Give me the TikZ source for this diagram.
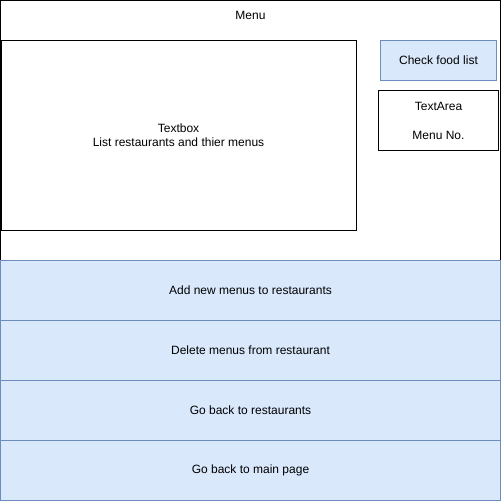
\documentclass[tikz,border=0pt]{standalone}
\usepackage{fontspec}
\setsansfont{Liberation Sans}
\usepackage{tikz}
\usetikzlibrary{positioning}
\definecolor{btnfill}{HTML}{DAE8FC}
\definecolor{btndraw}{HTML}{6C8EBF}

\begin{document}
\begin{tikzpicture}[%
    x=1pt, y=-1pt, line width=1pt, inner sep=0pt, outer sep=0pt,
    every node/.style={rectangle, font=\sffamily\fontsize{12}{14}\selectfont, align=center},
    plain/.style={draw=black, fill=white},
    button/.style={draw=btndraw, fill=btnfill}]
    \useasboundingbox (0,0) rectangle (502,502);
    \node[plain, minimum width=500pt, minimum height=260pt](frame) at (250.5,130.5) {};
    \node(title) at (250.5,15) {Menu};
    \node[plain, minimum width=355pt, minimum height=190pt](textbox) at (178.5,135.5) {Textbox\\List restaurants and thier menus};
    \node[button, minimum width=116pt, minimum height=40pt](check) at (438.5,60.5) {Check food list};
    \node[plain, minimum width=120pt, minimum height=60pt](textarea) at (438.5,120.5) {TextArea\\[15pt]Menu No.};
    \node[button, minimum width=500pt, minimum height=60pt](add) at (250.5,290.5) {Add new menus to restaurants};
    \node[button, minimum width=500pt, minimum height=60pt](delete) at (250.5,350.5) {Delete menus from restaurant};
    \node[button, minimum width=500pt, minimum height=60pt](restaurants) at (250.5,410.5) {Go back to restaurants};
    \node[button, minimum width=500pt, minimum height=60pt](mainpage) at (250.5,470.5) {Go back to main page};
\end{tikzpicture}
\end{document}
